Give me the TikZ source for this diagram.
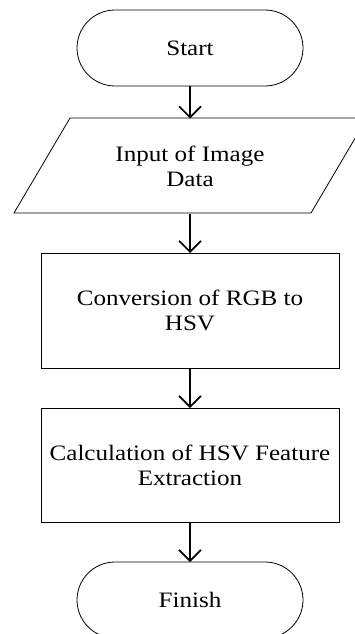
\documentclass[tikz,border=0pt]{standalone}
\usepackage{fontspec}
\setmainfont[FakeStretch=1.14]{Liberation Serif}
\usetikzlibrary{arrows.meta}
\tikzset{
  txt/.style={font=\fontsize{22}{25}\selectfont, align=center, inner sep=0pt, outer sep=0pt},
  terminal/.style={txt, draw, line width=0.8pt, rounded corners=38pt, minimum width=226pt, minimum height=76pt},
  procbox/.style={txt, draw, line width=0.8pt, minimum width=298pt},
  flow/.style={line width=1.6pt, -{Straight Barb[length=11pt,width=22pt]}},
}
\begin{document}
\begin{tikzpicture}[x=1pt,y=-1pt]
\useasboundingbox (0,0) rectangle (355,634);
\clip (0,0) rectangle (355,634);
\node[terminal] (start) at (190,48) {Start};
\draw[line width=0.8pt] (14,213) -- (70,118) -- (367,118) -- (311,213) -- cycle;
\node[txt, minimum height=95pt] (input) at (190,166) {Input of Image\\Data};
\node[procbox, minimum height=115pt] (conv) at (190,310.5) {Conversion of RGB to\\HSV};
\node[procbox, minimum height=114pt] (calc) at (190,465) {Calculation of HSV Feature\\Extraction};
\node[terminal] (finish) at (190,600) {Finish};
\draw[flow] (start) -- (input);
\draw[flow] (input) -- (conv);
\draw[flow] (conv) -- (calc);
\draw[flow] (calc) -- (finish);
\end{tikzpicture}
\end{document}
